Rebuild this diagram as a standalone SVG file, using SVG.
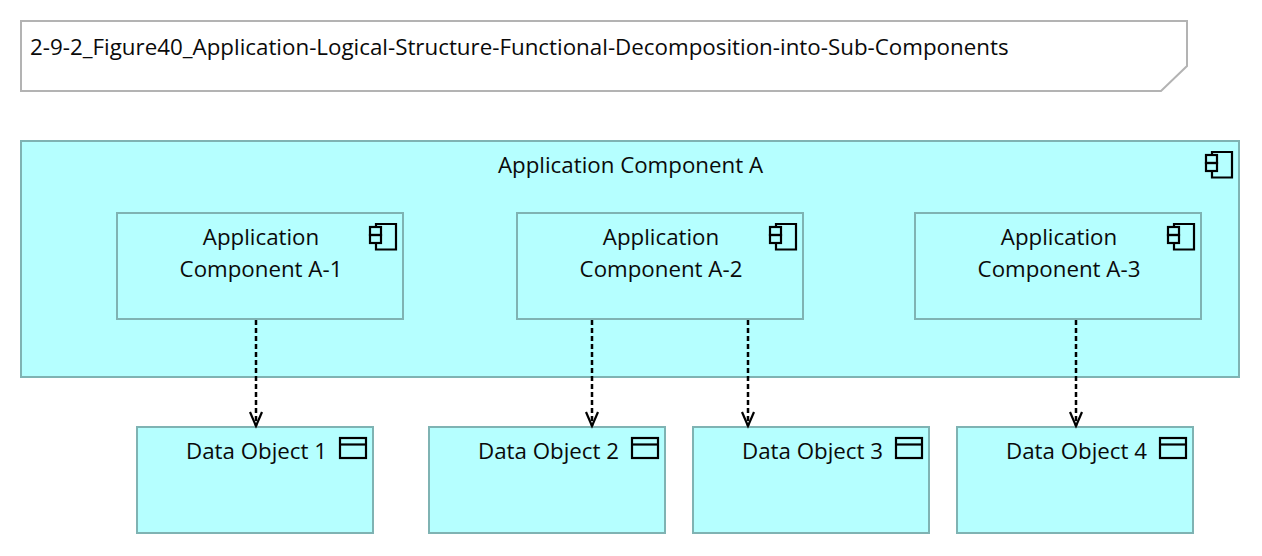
<svg xmlns="http://www.w3.org/2000/svg" width="1262" height="556" viewBox="0 0 1262 556">
<style>
text{font-family:"Open Sans","Noto Sans","Liberation Sans",sans-serif;font-size:22.3px;fill:#0a0a0a}
.box{fill:#b5ffff;stroke:#7fb3b3;stroke-width:2}
.ic{fill:none;stroke:#000;stroke-width:2.200}
.c{fill:none;stroke:#000;stroke-width:2.500;stroke-dasharray:5 3}
.h{fill:none;stroke:#000;stroke-width:2.200}
.m{text-anchor:middle}
</style>
<defs>
<g id="comp"><path class="ic" d="M6 3V0H26V25.500H6V19"/><rect class="ic" x="0" y="3" width="11" height="8"/><rect class="ic" x="0" y="11" width="11" height="8"/></g>
<g id="data"><rect class="ic" x="0" y="0" width="26" height="20"/><path class="ic" d="M0 6.500H26"/></g>
<path id="ah" class="h" d="M-6 -14L0 0L6 -14"/>
</defs>
<g id="note"><path d="M21 21H1187V66L1161 91H21Z" fill="#fff" stroke="#b3b3b3" stroke-width="2"/><text x="30" y="55" style="font-size:22.350px">2-9-2_Figure40_Application-Logical-Structure-Functional-Decomposition-into-Sub-Components</text></g>
<g id="A"><rect class="box" x="21" y="141" width="1218" height="236"/><text class="m" x="630.500" y="173">Application Component A</text><use href="#comp" x="1206" y="152"/></g>
<g id="A1"><rect class="box" x="117" y="213" width="286" height="106"/><text class="m" x="261" y="245">Application</text><text class="m" x="261" y="277">Component A-1</text><use href="#comp" x="370" y="224"/></g>
<g id="A2"><rect class="box" x="517" y="213" width="286" height="106"/><text class="m" x="661" y="245">Application</text><text class="m" x="661" y="277">Component A-2</text><use href="#comp" x="770" y="224"/></g>
<g id="A3"><rect class="box" x="915" y="213" width="286" height="106"/><text class="m" x="1059" y="245">Application</text><text class="m" x="1059" y="277">Component A-3</text><use href="#comp" x="1168" y="224"/></g>
<g id="D1"><rect class="box" x="137" y="427" width="236" height="106"/><text class="m" x="256.500" y="459">Data Object 1</text><use href="#data" x="340" y="438"/></g>
<g id="D2"><rect class="box" x="429" y="427" width="236" height="106"/><text class="m" x="548.500" y="459">Data Object 2</text><use href="#data" x="632" y="438"/></g>
<g id="D3"><rect class="box" x="693" y="427" width="236" height="106"/><text class="m" x="812.500" y="459">Data Object 3</text><use href="#data" x="896" y="438"/></g>
<g id="D4"><rect class="box" x="957" y="427" width="236" height="106"/><text class="m" x="1076.500" y="459">Data Object 4</text><use href="#data" x="1160" y="438"/></g>
<g id="connectors">
<path class="c" d="M256 320V426"/><use href="#ah" x="256" y="426"/>
<path class="c" d="M592 320V426"/><use href="#ah" x="592" y="426"/>
<path class="c" d="M748 320V426"/><use href="#ah" x="748" y="426"/>
<path class="c" d="M1076 320V426"/><use href="#ah" x="1076" y="426"/>
</g>
</svg>
